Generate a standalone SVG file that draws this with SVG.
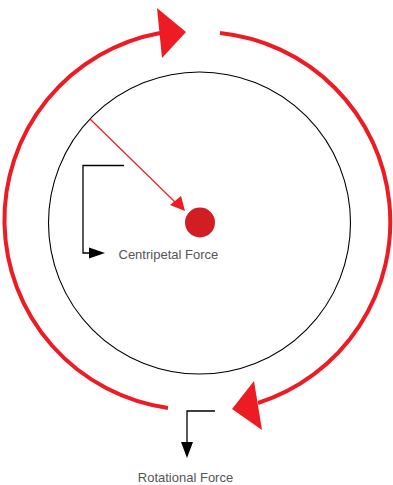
<svg xmlns="http://www.w3.org/2000/svg" width="393" height="485" viewBox="0 0 393 485">
<style>
.red-arc{fill:none;stroke:#ed1c24;stroke-width:4}
.red-head{fill:#ed1c24;stroke:none}
.blk{fill:none;stroke:#000;stroke-width:1.3}
.blk-head{fill:#000}
.lbl{font-family:"Liberation Sans",Arial,sans-serif;font-size:13px;fill:#555}
</style>
<rect width="393" height="485" fill="#fff"/>
<g id="orbit">
<circle cx="199.5" cy="223" r="151" fill="none" stroke="#000" stroke-width="1.1"/>
</g>
<g id="mass">
<circle cx="200" cy="222.5" r="15" fill="#d21d23"/>
</g>
<g id="label-centripetal">
<text class="lbl" x="118.5" y="258.5">Centripetal Force</text>
</g>
<g id="label-rotational">
<text class="lbl" x="185.5" y="482" text-anchor="middle">Rotational Force</text>
</g>
<g id="connectors">
<path class="red-arc" d="M168,408 A190,190 0 0 1 160,33"/>
<polygon class="red-head" points="157,8 186,32 162,58"/>
<path class="red-arc" d="M220,33 A190,190 0 0 1 258,403"/>
<polygon class="red-head" points="254,381 232,409 262,430"/>
<line x1="90" y1="119" x2="176" y2="203" stroke="#ed1c24" stroke-width="1.2"/>
<polygon class="red-head" points="185,211 170,205 181,196"/>
<polyline class="blk" points="124,165.5 83,165.5 83,253 91,253"/>
<polygon class="blk-head" points="89,247.5 105,253 89,258.5"/>
<polyline class="blk" points="215,411 187,411 187,445"/>
<polygon class="blk-head" points="181,442 193,442 187,458"/>
</g>
</svg>
